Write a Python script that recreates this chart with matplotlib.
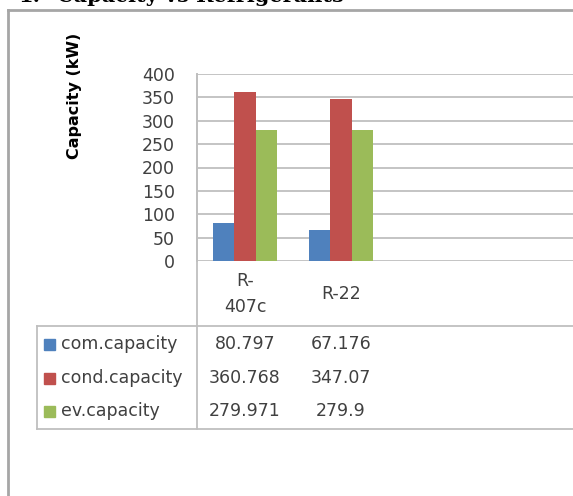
import numpy as np
import matplotlib
matplotlib.use("Agg")
import matplotlib.pyplot as plt
from matplotlib import transforms
from matplotlib.lines import Line2D
from matplotlib.patches import Rectangle

plt.rcParams['font.family'] = ['DejaVu Sans']

# Chart data
refrigerants = ["R-\n407c", "R-22"]
series_names = ["com.capacity", "cond.capacity", "ev.capacity"]
com_capacity = [80.797, 67.176]
cond_capacity = [360.768, 347.07]
ev_capacity = [279.971, 279.9]
colors = ["#4F81BD", "#C0504D", "#9BBB59"]
yticks = [0, 50, 100, 150, 200, 250, 300, 350, 400]

W, H = 573, 496
fig = plt.figure(figsize=(W / 100, H / 100), dpi=100)
fig.patch.set_facecolor("white")
txt_color = "#404040"
fs = 12.5


def fx(px):
    return px / W


def fy(py):
    return 1 - py / H


def hline(y, x0, x1, color="#bfbfbf", lw=1.3):
    fig.add_artist(Line2D([fx(x0), fx(x1)], [fy(y), fy(y)], color=color, lw=lw,
                          transform=fig.transFigure))


def vline(x, y0, y1, color="#bfbfbf", lw=1.3):
    fig.add_artist(Line2D([fx(x), fx(x)], [fy(y0), fy(y1)], color=color, lw=lw,
                          transform=fig.transFigure))


# heading above the chart frame (mostly cut off by the page edge)
fig.text(fx(18), fy(2), "1.", fontsize=15, fontweight="bold",
         family="DejaVu Serif", va="baseline", ha="left", color="black")
fig.text(fx(57), fy(2), "Capacity vs Refrigerants", fontsize=15, fontweight="bold",
         family="DejaVu Serif", va="baseline", ha="left", color="black")

# outer chart frame
hline(10, 8, W + 5, color="#a6a6a6", lw=2)
vline(8, 10, H + 5, color="#a6a6a6", lw=2)

# plot area
left_px, top_px, bottom_px, right_px = 197, 74, 261, 620
cat_px = 96
ax = fig.add_axes([fx(left_px), fy(bottom_px), fx(right_px - left_px),
                   (bottom_px - top_px) / H])
x = np.arange(len(refrigerants))
bw = 0.222
for k, vals in enumerate([com_capacity, cond_capacity, ev_capacity]):
    ax.bar(x + (k - 1) * bw, vals, width=bw, color=colors[k], zorder=3)

ax.set_xlim(-0.5, -0.5 + (right_px - left_px) / cat_px)
ax.set_ylim(0, 400)
ax.set_yticks(yticks)
ax.set_yticklabels([str(v) for v in yticks], fontsize=fs, color=txt_color)
ax.set_xticks([])
ax.tick_params(axis="y", length=0, pad=16)
for s in ["top", "right", "bottom"]:
    ax.spines[s].set_visible(False)
ax.spines["left"].set_color("#bfbfbf")
ax.spines["left"].set_linewidth(1.3)
ax.grid(axis="y", color="#bfbfbf", lw=1.3, zorder=0)
ax.set_axisbelow(True)

fig.text(fx(74), fy(96), "Capacity (kW)", rotation=90, fontsize=11.5, fontweight="bold",
         ha="center", va="center", color="black")

# category axis area and data table
vline(left_px, top_px, 429)
hline(326, 37, W + 5)
hline(429, 37, W + 5)
vline(37, 326, 429)

tr = transforms.blended_transform_factory(ax.transData, fig.transFigure)
for i, name in enumerate(refrigerants):
    ax.text(i, fy(294), name, transform=tr, ha="center", va="center",
            fontsize=fs, color=txt_color, linespacing=1.5, clip_on=False)

row_y = [344, 378, 411]
for r, (name, vals) in enumerate(zip(series_names, [com_capacity, cond_capacity, ev_capacity])):
    fig.add_artist(Rectangle((fx(44), fy(row_y[r] + 6)), fx(11), 11 / H,
                             color=colors[r], transform=fig.transFigure))
    fig.text(fx(61), fy(row_y[r]), name, fontsize=fs, color=txt_color,
             ha="left", va="center")
    for i, v in enumerate(vals):
        ax.text(i, fy(row_y[r]), str(v), transform=tr, ha="center", va="center",
                fontsize=fs, color=txt_color, clip_on=False)

fig.savefig("out.png", dpi=100)
